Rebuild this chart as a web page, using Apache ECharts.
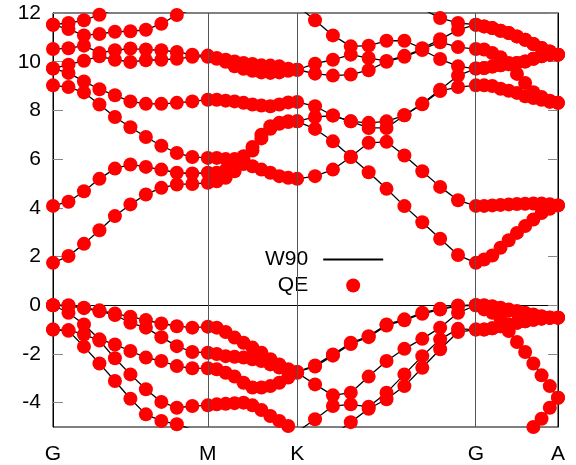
<!DOCTYPE html>
<html><head><meta charset="utf-8">
<script src="https://cdn.jsdelivr.net/npm/echarts@6/dist/echarts.min.js"></script>
<style>html,body{margin:0;padding:0;background:#fff}#c{width:576px;height:465px}</style>
</head><body><div id="c"></div>
<script>
// k-path coordinates (G-M-K-G-A), 10 steps per segment
const kpos = [0,0.1,0.2,0.3,0.4,0.5,0.6,0.7,0.8,0.9,1.0,
  1.05774,1.11547,1.17321,1.23094,1.28868,1.34641,1.40415,1.46188,1.51962,1.57735,
  1.69282,1.80829,1.92376,2.03923,2.15470,2.27017,2.38564,2.50111,2.61658,2.73205,
  2.78509,2.83813,2.89117,2.94421,2.99725,3.05029,3.10333,3.15637,3.20941,3.26245];
const kLabels = ['G','M','K','G','A'];
const kLabelPos = [0, 1, 1.57735, 2.73205, 3.26245];
const yTicks = [-4,-2,0,2,4,6,8,10,12];

// conduction bands
const c1 = [1.74,2.02,2.52,3.08,3.66,4.14,4.55,4.82,4.96,4.98,5.03, 5.09,5.23,5.50,5.80,5.71,5.57,5.44,5.30,5.23,5.19, 5.30,5.57,6.09,5.46,4.78,4.07,3.41,2.73,2.06,1.74, 1.88,2.04,2.36,2.67,2.97,3.25,3.52,3.79,3.96,4.10];
const c2 = [4.08,4.25,4.68,5.19,5.61,5.78,5.68,5.57,5.44,5.41,5.44, 5.44,5.55,5.75,5.95,6.35,6.85,7.25,7.45,7.52,7.55, 7.24,6.73,6.10,6.67,6.71,6.15,5.50,4.86,4.31,4.08, 4.08,4.10,4.12,4.14,4.16,4.17,4.18,4.18,4.15,4.10];
const c3 = [9.03,8.96,8.74,8.24,7.73,7.31,6.91,6.55,6.25,6.09,6.05, 6.05,6.00,6.00,6.12,6.50,7.00,7.35,7.49,7.56,7.55, 7.73,7.79,7.55,7.28,7.28,7.80,8.25,8.80,8.96,9.03, 9.03,9.00,8.89,8.81,8.72,8.58,8.51,8.44,8.35,8.31];
const c4 = [9.72,9.54,9.19,8.87,8.62,8.37,8.27,8.27,8.31,8.37,8.44, 8.44,8.40,8.37,8.31,8.24,8.20,8.17,8.24,8.33,8.35, 8.17,7.79,7.55,7.49,7.55,7.80,8.28,8.85,9.43,9.72, 9.74,9.80,9.85,9.90,9.50,9.13,8.75,8.55,8.40,8.31];
const c5 = [9.72,9.88,10.04,10.22,10.08,9.99,10.06,10.08,10.12,10.20,10.20, 10.12,10.00,9.81,9.71,9.63,9.56,9.54,9.56,9.63,9.67, 9.51,9.43,9.47,9.65,10.00,10.20,10.48,10.11,9.81,9.72, 9.74,9.80,9.85,9.90,9.95,10.01,10.12,10.22,10.29,10.29];
const c6 = [10.52,10.55,10.66,10.36,10.47,10.54,10.50,10.47,10.40,10.29,10.25, 10.15,10.08,10.01,9.95,9.91,9.85,9.84,9.81,9.71,9.67, 9.92,10.08,10.29,10.15,10.03,10.24,10.52,10.80,10.60,10.52, 10.50,10.36,10.18,9.95,9.95,10.01,10.12,10.22,10.29,10.29];
const c7 = [11.52,11.34,11.08,11.14,11.23,11.25,11.31,11.56,11.92,12.15,12.30, 12.35,12.40,12.45,12.50,12.50,12.50,12.45,12.40,12.35,12.30, 11.70,11.08,10.63,10.66,10.86,10.86,10.55,10.92,11.31,11.52, 11.45,11.38,11.27,11.18,11.04,10.90,10.73,10.56,10.42,10.29];
const c8 = [11.52,11.59,11.70,11.93,12.15,12.40,12.60,12.80,12.90,13.00,13.00, 13.05,13.10,13.10,13.15,13.15,13.15,13.10,13.10,13.05,13.00, 12.90,12.80,12.70,12.60,12.50,12.40,12.17,11.79,11.59,11.52, 11.45,11.38,11.27,11.18,11.04,10.90,10.73,10.56,10.42,10.29];
// valence bands
const v1 = [0.00,0.00,-0.10,-0.21,-0.34,-0.47,-0.61,-0.75,-0.86,-0.92,-0.88, -0.92,-1.10,-1.33,-1.54,-1.74,-1.95,-2.22,-2.43,-2.63,-2.74, -2.47,-2.02,-1.54,-1.27,-0.79,-0.58,-0.31,-0.14,-0.01,0.00, 0.00,-0.04,-0.10,-0.17,-0.24,-0.31,-0.38,-0.45,-0.50,-0.51];
const v2 = [0.00,-0.03,-0.12,-0.25,-0.40,-0.72,-0.92,-1.31,-1.68,-1.92,-1.95, -2.00,-2.09,-2.12,-2.15,-2.22,-2.29,-2.43,-2.56,-2.70,-2.74, -2.52,-2.07,-1.59,-1.31,-0.83,-0.62,-0.35,-0.18,-0.03,0.00, -0.02,-0.08,-0.15,-0.22,-0.29,-0.36,-0.42,-0.47,-0.51,-0.51];
const v3 = [0.00,-0.31,-0.79,-1.40,-1.61,-1.88,-2.15,-2.29,-2.50,-2.59,-2.59, -2.63,-2.77,-2.93,-3.18,-3.38,-3.38,-3.32,-3.18,-2.97,-2.77, -3.25,-3.70,-3.59,-2.93,-2.29,-1.79,-1.38,-0.92,-0.31,0.00, -0.17,-0.31,-0.55,-0.79,-0.72,-0.66,-0.60,-0.55,-0.52,-0.51];
const v4 = [-1.00,-1.02,-1.20,-1.45,-2.18,-2.84,-3.45,-3.97,-4.21,-4.14,-4.11, -4.07,-4.05,-4.02,-4.00,-4.11,-4.30,-4.55,-4.75,-4.96,-5.20, -4.68,-4.14,-4.07,-4.17,-3.59,-2.84,-2.09,-1.40,-0.97,-1.00, -1.00,-0.95,-0.86,-0.79,-0.72,-0.66,-0.60,-0.55,-0.52,-0.51];
const v5 = [-1.00,-1.05,-1.70,-2.39,-3.11,-3.84,-4.48,-4.75,-4.89,-5.10,-5.20, -5.30,-5.40,-5.50,-5.60,-5.60,-5.60,-5.55,-5.50,-5.50,-5.50, -5.45,-5.35,-4.80,-4.25,-3.86,-3.32,-2.57,-1.81,-1.10,-1.00, -1.00,-0.95,-0.86,-1.06,-1.51,-1.92,-2.39,-2.88,-3.32,-3.80];
const v6 = [-6.50,-6.50,-6.45,-6.40,-6.40,-6.35,-6.30,-6.30,-6.25,-6.20,-6.20, -6.20,-6.20,-6.15,-6.10,-6.10,-6.10,-6.05,-6.00,-6.00,-6.00, -6.00,-6.10,-6.20,-6.30,-6.40,-6.45,-6.50,-6.50,-6.50,-6.50, -6.40,-6.30,-6.10,-5.90,-5.60,-5.30,-5.00,-4.66,-4.21,-3.80];

const bands = [c1,c2,c3,c4,c5,c6,c7,c8,v1,v2,v3,v4,v5,v6];
const FONT = 'Liberation Sans, Arial, sans-serif';

const series = [];
bands.forEach((b, i) => {
  series.push({
    name: 'W90', type: 'line', data: b.map((e, j) => [kpos[j], e]),
    symbol: 'none', showSymbol: false, clip: true, z: 2,
    lineStyle: {color: '#000', width: 1.3}, itemStyle: {color: '#000'},
    markLine: i === 0 ? {
      silent: true, symbol: ['none','none'], label: {show: false},
      lineStyle: {color: '#555', width: 1, type: 'solid'},
      data: kLabelPos.slice(1, 4).map(x => ({xAxis: x}))
    } : undefined
  });
});
const qeData = [];
bands.forEach(b => b.forEach((e, j) => qeData.push([kpos[j], e])));
series.push({
  name: 'QE', type: 'scatter', data: qeData, symbol: 'circle', symbolSize: 14,
  clip: true, z: 3, itemStyle: {color: '#ff0000', opacity: 1}
});

const chart = echarts.init(document.getElementById('c'), null, {renderer: 'canvas'});
chart.setOption({
  animation: false,
  backgroundColor: '#fff',
  grid: {left: 53, right: 18, top: 13, bottom: 38, show: true, borderColor: '#000', borderWidth: 1, backgroundColor: 'transparent'},
  legend: {
    data: [{name: 'W90', itemStyle: {opacity: 0}}, {name: 'QE'}],
    orient: 'vertical', align: 'right', left: 265, top: 249,
    padding: 0, itemWidth: 60, itemHeight: 14, itemGap: 5,
    textStyle: {fontFamily: FONT, fontSize: 21, color: '#000', lineHeight: 14, padding: [0, 10, 0, 0]}
  },
  xAxis: {
    type: 'value', min: 0, max: 3.26245,
    axisLine: {show: true, lineStyle: {color: '#000', width: 1}},
    axisTick: {show: false}, splitLine: {show: false},
    axisLabel: {
      customValues: kLabelPos, fontFamily: FONT, fontSize: 21, color: '#000', margin: 17,
      formatter: v => { const i = kLabelPos.findIndex(p => Math.abs(p - v) < 1e-4); return i >= 0 ? kLabels[i] : ''; }
    }
  },
  yAxis: [{
    type: 'value', min: -5, max: 12, position: 'left',
    axisLine: {show: true, lineStyle: {color: '#000', width: 1}},
    axisTick: {show: true, inside: true, length: 10, customValues: yTicks, lineStyle: {color: '#888'}},
    axisLabel: {customValues: yTicks, fontFamily: FONT, fontSize: 21, color: '#000', margin: 12},
    splitLine: {show: false}
  }, {
    type: 'value', min: -5, max: 12, position: 'right',
    axisLine: {show: true, lineStyle: {color: '#000', width: 1}},
    axisTick: {show: true, inside: true, length: 10, customValues: yTicks, lineStyle: {color: '#888'}},
    axisLabel: {show: false}, splitLine: {show: false}
  }],
  series: series
});
</script></body></html>
